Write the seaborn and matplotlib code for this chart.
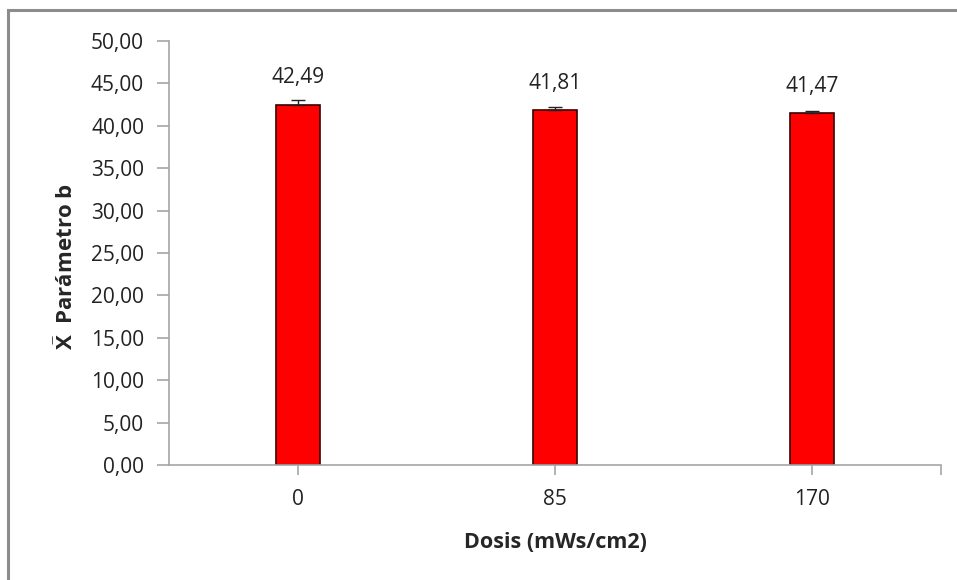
import matplotlib
matplotlib.use("Agg")
import matplotlib.pyplot as plt
import matplotlib.ticker as mticker
from matplotlib.patches import Rectangle
import pandas
import seaborn

dosis = ["0", "85", "170"]
media_b = [42.49, 41.81, 41.47]
error_b = [0.60, 0.35, 0.30]

df = pandas.DataFrame({"Dosis": dosis, "b": media_b, "err": error_b})

seaborn.set_style("white")
plt.rcParams["font.family"] = ["Open Sans", "DejaVu Sans"]
plt.rcParams["mathtext.fontset"] = "custom"
plt.rcParams["mathtext.rm"] = "Open Sans"
plt.rcParams["mathtext.bf"] = "Open Sans:bold"

fig = plt.figure(figsize=(9.57, 5.8), dpi=100)
ax = fig.add_axes([169 / 957, 1 - 465 / 580, (941 - 169) / 957, (465 - 41) / 580])

seaborn.barplot(data=df, x="Dosis", y="b", color="#ff0000", width=0.17,
                edgecolor="#3a0000", linewidth=1.2, errorbar=None, ax=ax,
                saturation=1)
xs = [p.get_x() + p.get_width() / 2 for p in ax.patches]
ax.errorbar(xs, df["b"], yerr=[[0] * len(df), df["err"]], fmt="none",
            ecolor="#222222", elinewidth=1.0, capsize=5, capthick=1.0)

labels = [f"{v:.2f}".replace(".", ",") for v in df["b"]]
ax.bar_label(ax.containers[0], labels=labels, padding=12, fontsize=15,
             color="#222222")

ax.set_ylim(0, 50)
ax.set_xlim(-0.5, 2.5)
ax.yaxis.set_major_locator(mticker.MultipleLocator(5))
ax.yaxis.set_major_formatter(mticker.FuncFormatter(lambda v, p: f"{v:.2f}".replace(".", ",")))
ax.xaxis.set_minor_locator(mticker.FixedLocator([2.5]))

for s in ["top", "right"]:
    ax.spines[s].set_visible(False)
for s in ["left", "bottom"]:
    ax.spines[s].set_color("#a6a6a6")
    ax.spines[s].set_linewidth(1.2)

ax.tick_params(axis="both", which="both", direction="out", colors="#a6a6a6",
               labelcolor="#222222", labelsize=15, width=1.2,
               bottom=True, left=True)
ax.tick_params(axis="y", length=9, pad=9)
ax.tick_params(axis="x", which="both", length=7, pad=10)

ax.set_xlabel("Dosis (mWs/cm2)", fontsize=15.5, fontweight="bold", labelpad=16)
ax.set_ylabel(r"$\mathbf{\bar{X}}$  Parámetro b", fontsize=16, fontweight="bold")
ax.yaxis.set_label_coords(-0.118, 0.467)

fig.patches.append(Rectangle((8 / 957, -0.1), 1.2, 1 - 10 / 580 + 0.1,
                             transform=fig.transFigure, fill=False,
                             edgecolor="#8c8c8c", linewidth=2.2))

fig.savefig("out.png", dpi=100)
